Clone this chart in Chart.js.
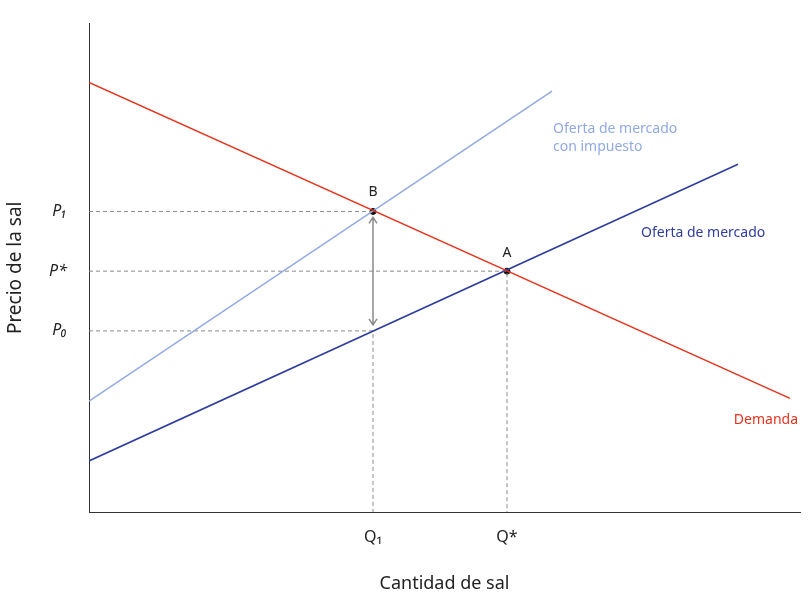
<!DOCTYPE html>
<html><head><meta charset="utf-8">
<script src="https://cdn.jsdelivr.net/npm/chart.js@4"></script>
<style>html,body{margin:0;padding:0;background:#fff}#w{width:810px;height:599px}</style>
</head><body><div id="w"><canvas id="c"></canvas></div>
<script>
const demandX=[0,701], demandY=[446,118];
const supplyX=[0,649], supplyY=[53,361];
const taxX=[0,463], taxY=[115,437];
const pointB=[284,312], pointA=[418,250];
const p0Y=188;
const xTickVals=[284,418], xTickLabels=['Q₁','Q*'];
const yTickVals=[312,250,188], yTickLabels=['P₁','P*','P₀'];
const xMax=711, yMax=507;
const red='#e8321e', blue='#2e3d9e', light='#92aae2', grey='#8a8a8a';
const pts=(xs,ys)=>xs.map((x,i)=>({x:x,y:ys[i]}));
const dash={borderColor:grey,borderWidth:1,borderDash:[4,3],pointRadius:0,fill:false};
const ds=[
 {data:pts(demandX,demandY),borderColor:red,borderWidth:1.5,pointRadius:0},
 {data:pts(supplyX,supplyY),borderColor:blue,borderWidth:1.5,pointRadius:0},
 {data:pts(taxX,taxY),borderColor:light,borderWidth:1.5,pointRadius:0},
 Object.assign({data:[{x:0,y:pointB[1]},{x:pointB[0],y:pointB[1]}]},dash),
 Object.assign({data:[{x:0,y:pointA[1]},{x:pointA[0],y:pointA[1]},{x:pointA[0],y:0}]},dash),
 Object.assign({data:[{x:0,y:p0Y},{x:pointB[0],y:p0Y},{x:pointB[0],y:0}]},dash),
 {data:[{x:pointB[0],y:pointB[1]},{x:pointA[0],y:pointA[1]}],showLine:false,pointRadius:3,pointBackgroundColor:'#111',pointBorderColor:'#111'}
];
const labels={
 id:'labels',
 afterDatasetsDraw(ch){
  const c=ch.ctx,x=ch.scales.x,y=ch.scales.y;
  c.save();c.font='14px "Noto Sans", sans-serif';c.textBaseline='middle';
  const t=(s,px,py,col,al)=>{c.fillStyle=col;c.textAlign=al||'left';c.fillText(s,px,py);};
  t('B',x.getPixelForValue(pointB[0]),y.getPixelForValue(pointB[1])-19,'#222','center');
  t('A',x.getPixelForValue(pointA[0]),y.getPixelForValue(pointA[1])-18,'#222','center');
  t('Oferta de mercado',x.getPixelForValue(552),y.getPixelForValue(290),blue,'left');
  t('Oferta de mercado',x.getPixelForValue(464),y.getPixelForValue(398),light,'left');
  t('con impuesto',x.getPixelForValue(464),y.getPixelForValue(379),light,'left');
  t('Demanda',x.getPixelForValue(709),y.getPixelForValue(95),red,'right');
  const ax=x.getPixelForValue(pointB[0]),a1=y.getPixelForValue(pointB[1])+6,a2=y.getPixelForValue(p0Y)-6;
  c.strokeStyle=grey;c.lineWidth=1.5;c.beginPath();c.moveTo(ax,a1);c.lineTo(ax,a2);
  c.moveTo(ax-4,a1+6);c.lineTo(ax,a1);c.lineTo(ax+4,a1+6);
  c.moveTo(ax-4,a2-6);c.lineTo(ax,a2);c.lineTo(ax+4,a2-6);c.stroke();
  c.restore();
 }
};
new Chart(document.getElementById('c'),{
 type:'line',data:{datasets:ds},
 options:{responsive:true,maintainAspectRatio:false,animation:false,
  layout:{padding:{top:-13,right:10}},
  plugins:{legend:{display:false},tooltip:{enabled:false}},
  scales:{
   x:{type:'linear',min:0,max:xMax,grid:{display:false},border:{color:'#333'},
    afterBuildTicks:s=>{s.ticks=[0,...xTickVals,xMax].map(v=>({value:v}));},
    afterFit:s=>{s.height=87;},
    ticks:{autoSkip:false,maxRotation:0,color:'#222',font:{size:16,family:'"Noto Sans", sans-serif'},padding:8,
     callback:v=>{const i=xTickVals.indexOf(v);return i<0?'':xTickLabels[i];}},
    title:{display:true,text:'Cantidad de sal',color:'#222',font:{size:18,family:'"Noto Sans", sans-serif'},padding:{top:20}}},
   y:{type:'linear',min:0,max:yMax,grid:{display:false},border:{color:'#333'},
    afterBuildTicks:s=>{s.ticks=[0,...yTickVals,yMax].map(v=>({value:v}));},
    afterFit:s=>{s.width=89;},
    ticks:{autoSkip:false,color:'#222',font:{size:16,style:'italic',family:'"Noto Sans", sans-serif'},padding:14,
     callback:v=>{const i=yTickVals.indexOf(v);return i<0?'':yTickLabels[i];}},
    title:{display:true,text:'Precio de la sal',color:'#222',font:{size:19,family:'"Noto Sans", sans-serif'},padding:{bottom:8}}}
  }},
 plugins:[labels]
});
</script></body></html>
